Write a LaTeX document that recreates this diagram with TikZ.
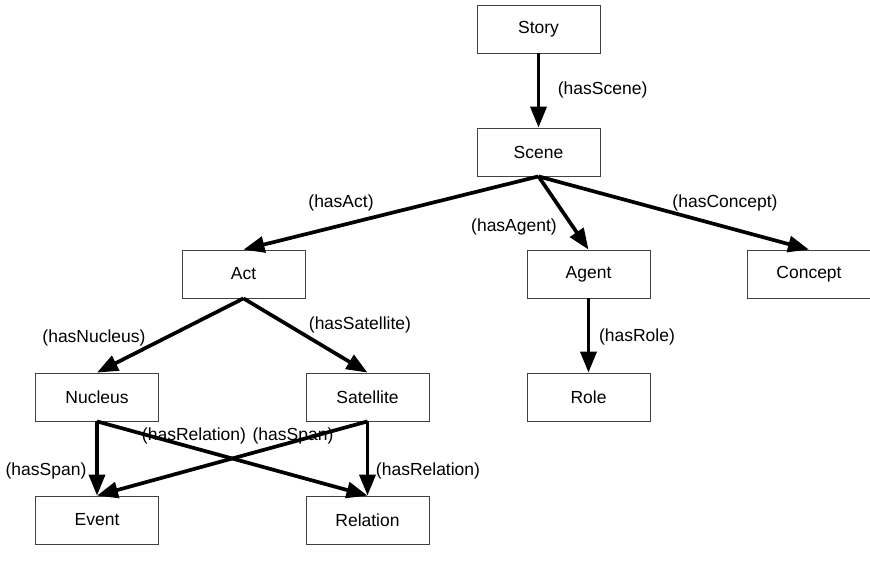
\documentclass[tikz,border=0pt]{standalone}
\usepackage{fontspec}
\setmainfont{Liberation Sans}
\usetikzlibrary{arrows.meta}
\tikzset{cls/.style={draw=black!75,line width=0.8pt,minimum width=123pt,minimum height=48pt,inner sep=0pt,font=\fontsize{17.5}{20}\selectfont},
  rel/.style={font=\fontsize{17.5}{20}\selectfont,inner sep=0pt}}
\begin{document}
\begin{tikzpicture}[->,>={Triangle[length=21pt,width=16pt]},line width=3.7pt,x=1pt,y=-1pt]
\useasboundingbox (0,0) rectangle (870,573);
\node[cls] (story) at (538.5,29) {Story}; \node[cls] (scene) at (538.5,152) {Scene};
\node[cls] (act) at (243.5,274) {Act}; \node[cls] (agent) at (588.5,274) {Agent};
\node[cls] (concept) at (809,274) {Concept};
\node[cls] (nucleus) at (97,397) {Nucleus}; \node[cls] (satellite) at (367.5,397) {Satellite};
\node[cls] (role) at (588.5,397) {Role};
\node[cls] (event) at (97,520) {Event}; \node[cls] (relation) at (367.5,520) {Relation};
% labels
\node[rel,anchor=west] (lscene) at (556,90) {(hasScene)};
\node[rel] (lact) at (341,203) {(hasAct)}; \node[rel] (lagent) at (514,227) {(hasAgent)};
\node[rel] (lconcept) at (725,203) {(hasConcept)};
\node[rel] (lnucleus) at (94,338) {(hasNucleus)}; \node[rel] (lsatellite) at (360,325) {(hasSatellite)};
\node[rel] (lrole) at (637,337) {(hasRole)};
\node[rel] (lspan1) at (46,471) {(hasSpan)}; \node[rel] (lrel1) at (194,436) {(hasRelation)};
\node[rel] (lspan2) at (293,436) {(hasSpan)}; \node[rel] (lrel2) at (428,471) {(hasRelation)};
% edges
\draw (story)--(scene);
\draw (scene.south)--(act.north); \draw (scene.south)--(agent.north); \draw (scene.south)--(concept.north);
\draw (agent)--(role);
\draw (act.south)--(nucleus.north); \draw (act.south)--(satellite.north);
\draw (nucleus.south)--(event.north); \draw (nucleus.south)--(relation.north);
\draw (satellite.south)--(event.north); \draw (satellite.south)--(relation.north);
\end{tikzpicture}
\end{document}
